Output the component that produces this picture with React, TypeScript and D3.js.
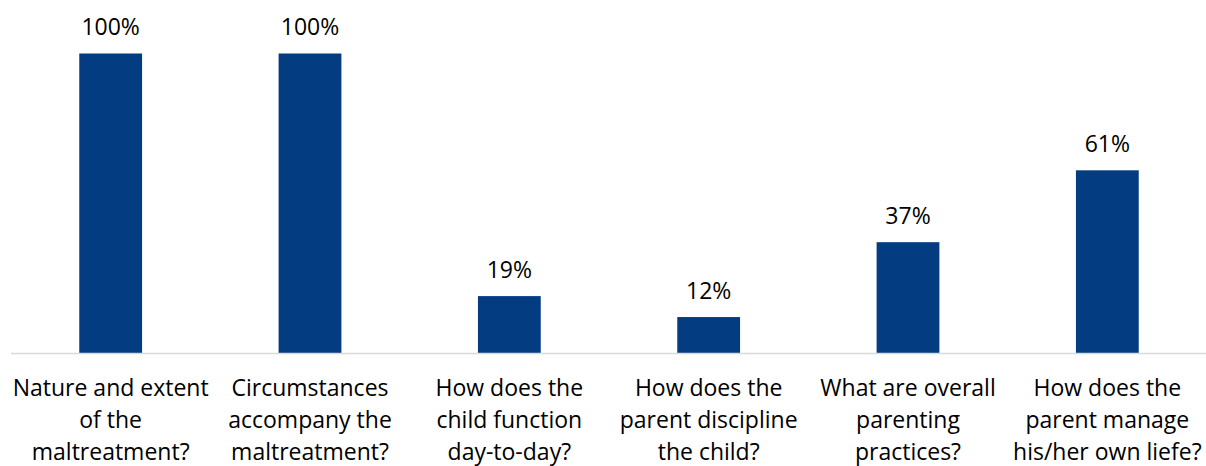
import React from "react";
import * as d3 from "d3";

const categories: string[][] = [
  ["Nature and extent", "of the", "maltreatment?"],
  ["Circumstances", "accompany the", "maltreatment?"],
  ["How does the", "child function", "day-to-day?"],
  ["How does the", "parent discipline", "the child?"],
  ["What are overall", "parenting", "practices?"],
  ["How does the", "parent manage", "his/her own liefe?"],
];
const values: number[] = [100, 100, 19, 12, 37, 61];
const valueLabels: string[] = ["100%", "100%", "19%", "12%", "37%", "61%"];

const W = 1206;
const H = 466;
const FONT = "'Open Sans', 'Noto Sans', sans-serif";

export default function App() {
  const x = d3
    .scaleBand<number>()
    .domain(d3.range(values.length))
    .range([11, 1207])
    .padding(0);
  const y = d3.scaleLinear().domain([0, 100]).range([353, 53.5]);
  const bw = x.bandwidth() * 0.315;

  return (
    <svg
      width={W}
      height={H}
      style={{ position: "absolute", left: 0, top: 0 }}
      fontFamily={FONT}
    >
      <rect width={W} height={H} fill="#fff" />
      {values.map((v, i) => {
        const cx = (x(i) as number) + x.bandwidth() / 2;
        return (
          <g key={i}>
            <rect
              x={cx - bw / 2}
              y={y(v)}
              width={bw}
              height={y(0) - y(v)}
              fill="#033c80"
            />
            <text
              x={cx}
              y={y(v) - 18.5}
              textAnchor="middle"
              fontSize={23}
              fill="#000"
            >
              {valueLabels[i]}
            </text>
            {categories[i].map((line, j) => (
              <text
                key={j}
                x={cx}
                y={396 + j * 32}
                textAnchor="middle"
                fontSize={23}
                fill="#000"
              >
                {line}
              </text>
            ))}
          </g>
        );
      })}
      <line
        x1={11}
        x2={W}
        y1={y(0) + 0.5}
        y2={y(0) + 0.5}
        stroke="#d9d9d9"
        strokeWidth={1.5}
      />
    </svg>
  );
}
